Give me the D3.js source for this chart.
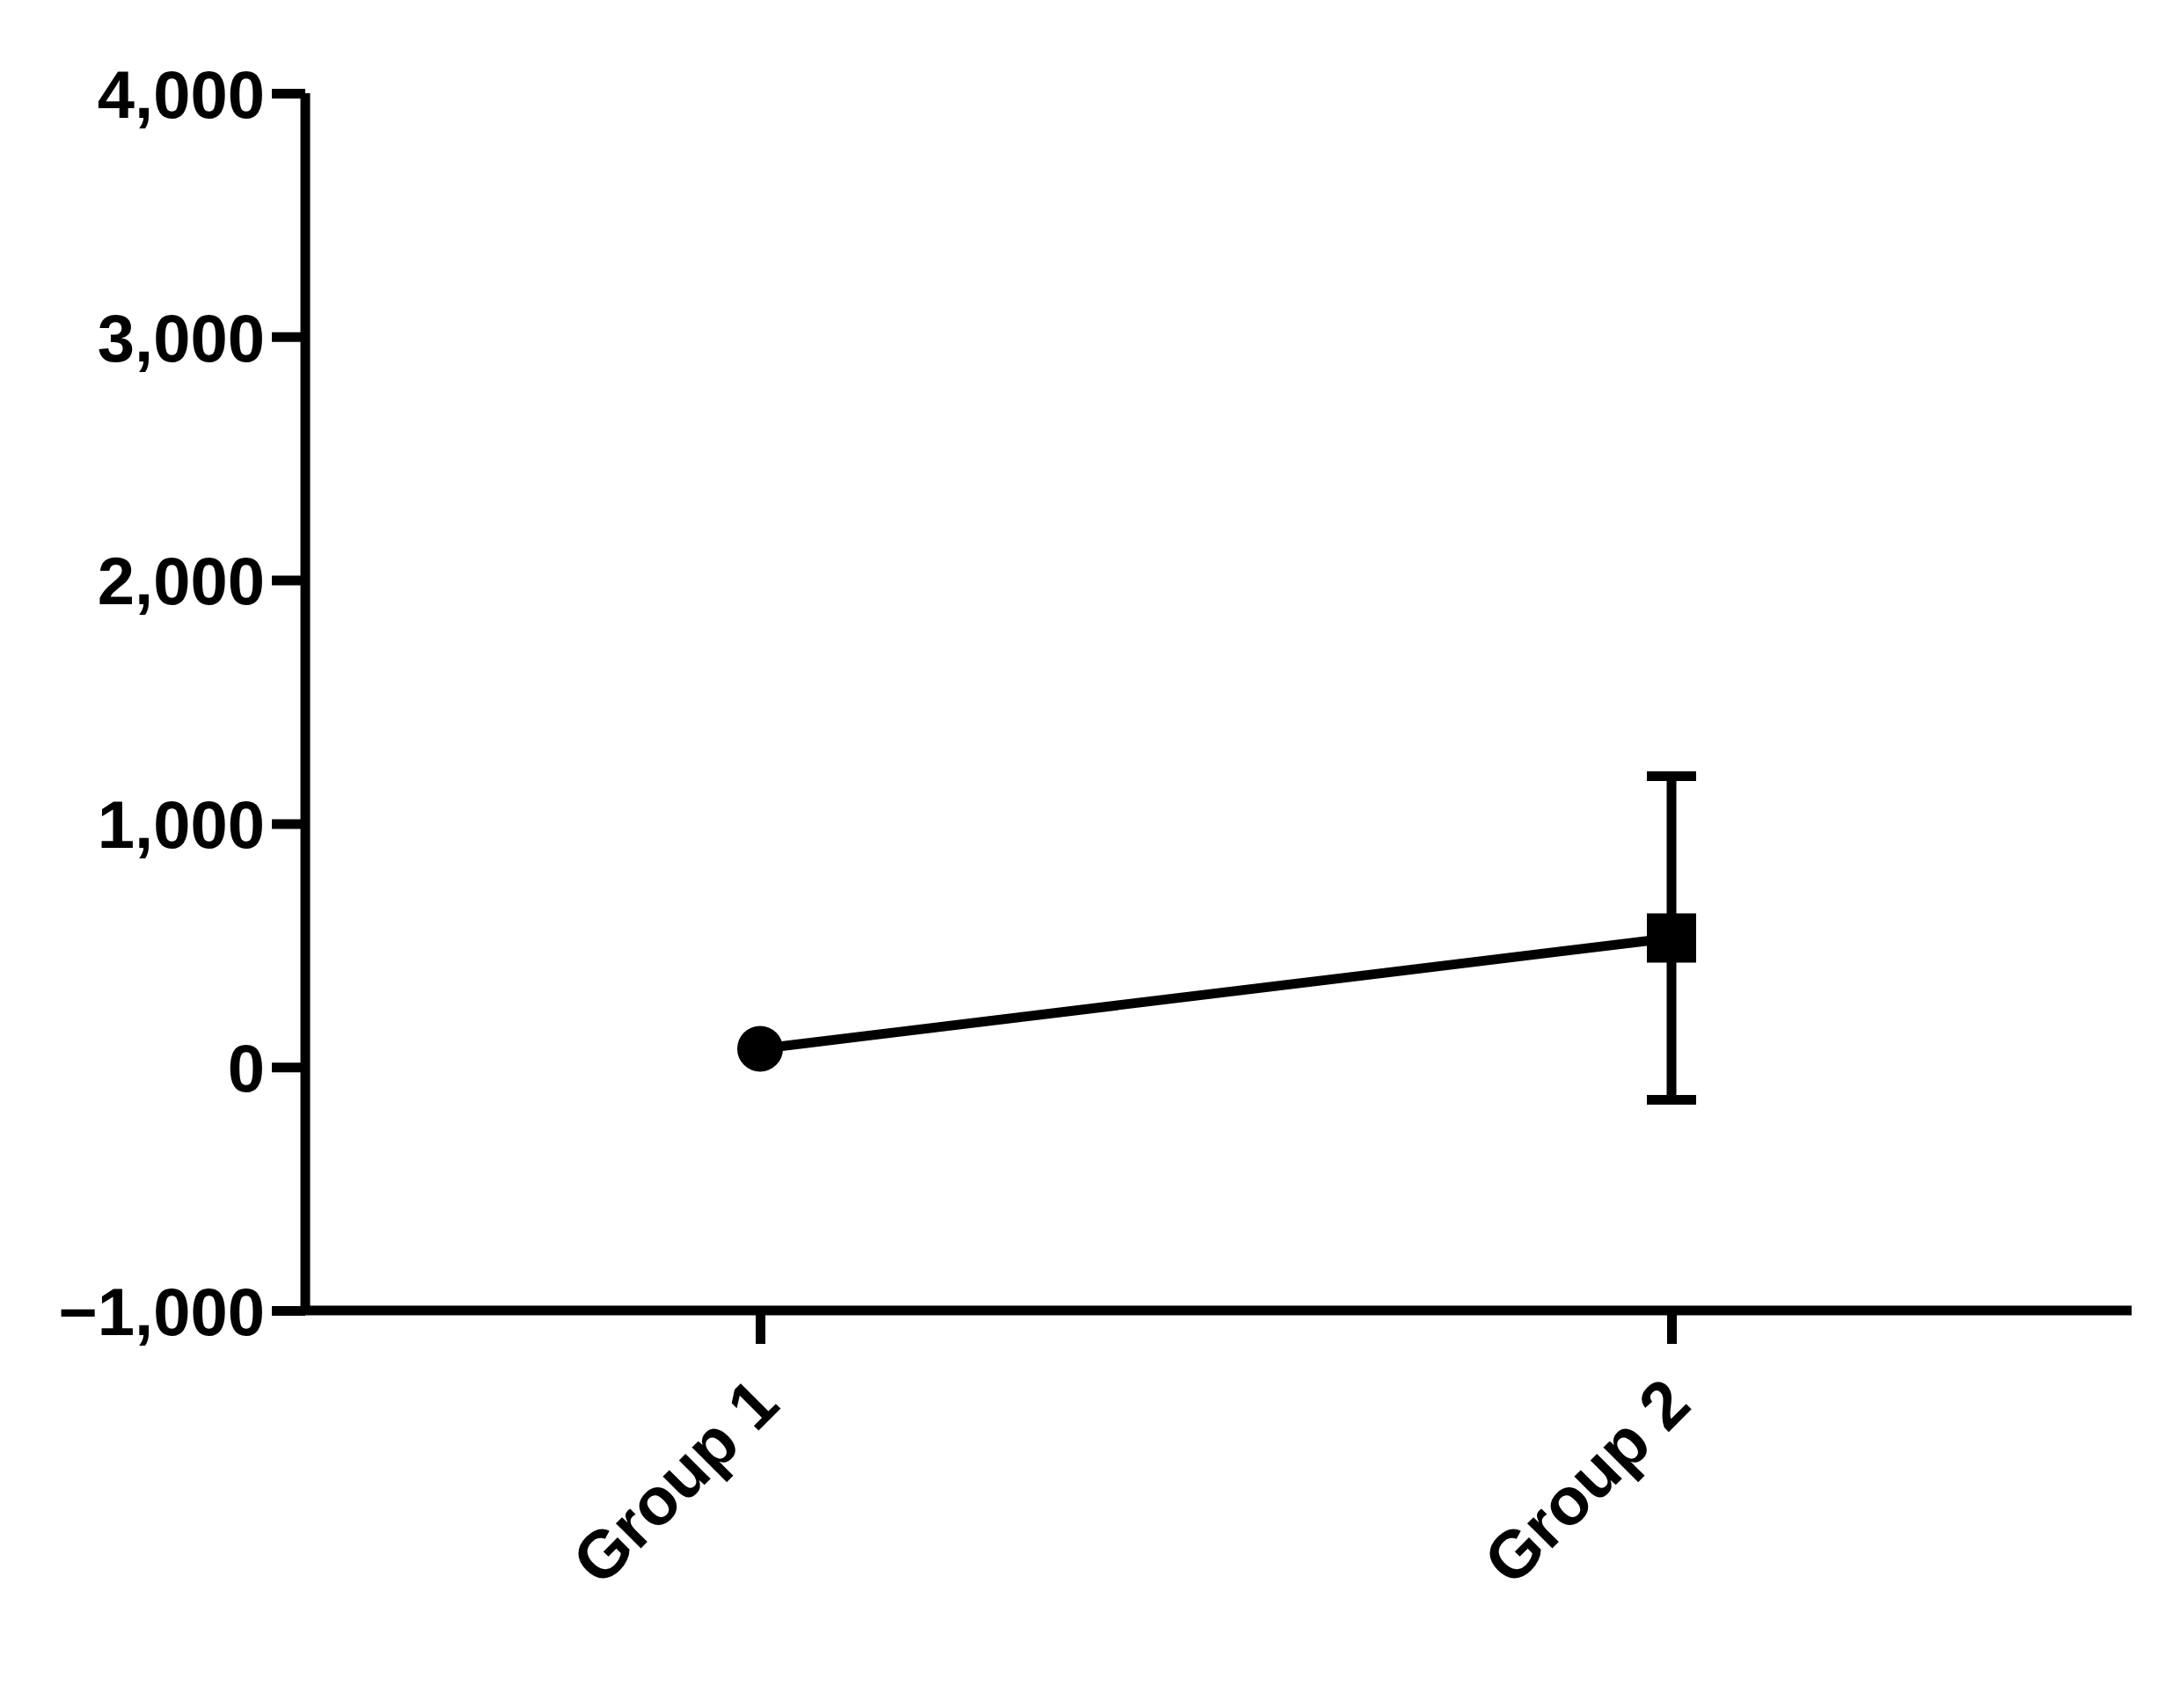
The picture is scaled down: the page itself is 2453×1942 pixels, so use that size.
<!DOCTYPE html>
<html><head><meta charset="utf-8">
<script src="https://cdn.jsdelivr.net/npm/d3@7"></script>
<style>body{margin:0;background:#fff}</style></head>
<body><svg id="c" width="2453" height="1942"></svg>
<script>
const categories = ["Group 1", "Group 2"];
const means = [75, 530];
const errors = [0, 665];
const yTicks = [-1000, 0, 1000, 2000, 3000, 4000];

const svg = d3.select("#c");
const L = 347, R = 2423, T = 106, B = 1490;
const y = d3.scaleLinear().domain([-1000, 4000]).range([B, T]);
const x = d3.scalePoint().domain(categories).range([864, 1900]);
const lw = 11, font = "'Liberation Sans', Arial, sans-serif";

const ya = svg.append("g").attr("transform", `translate(${L},0)`)
  .call(d3.axisLeft(y).tickValues(yTicks).tickSize(38).tickSizeOuter(0).tickPadding(8));
const xa = svg.append("g").attr("transform", `translate(0,${B})`)
  .call(d3.axisBottom(x).tickSize(38).tickSizeOuter(0).tickFormat(""));
xa.select(".domain").attr("d", `M${L},0H${R}`);
ya.select(".domain").attr("d", `M0,${B}V${T}`);
svg.selectAll(".domain, .tick line").attr("stroke", "#000").attr("stroke-width", lw);
ya.selectAll("text").attr("font-family", font).attr("font-weight", "bold").attr("font-size", 76).attr("fill", "#000").attr("dy", "0.36em");

svg.append("g").selectAll("text").data(categories).join("text")
  .attr("transform", d => `translate(${x(d) + 25},${B + 110}) rotate(-45)`)
  .attr("text-anchor", "end").attr("font-family", font).attr("font-weight", "bold")
  .attr("font-size", 76).text(d => d);

const line = d3.line().x((d, i) => x(categories[i])).y(d => y(d));
svg.append("path").attr("d", line(means)).attr("fill", "none").attr("stroke", "#000").attr("stroke-width", lw);

categories.forEach((c, i) => {
  if (errors[i] > 0) {
    const cx = x(c), hi = y(means[i] + errors[i]), lo = y(means[i] - errors[i]);
    svg.append("line").attr("x1", cx).attr("x2", cx).attr("y1", hi).attr("y2", lo).attr("stroke", "#000").attr("stroke-width", lw);
    [hi, lo].forEach(v => svg.append("line").attr("x1", cx - 28).attr("x2", cx + 28).attr("y1", v).attr("y2", v).attr("stroke", "#000").attr("stroke-width", lw));
  }
});
svg.append("circle").attr("cx", x(categories[0])).attr("cy", y(means[0])).attr("r", 26).attr("fill", "#000");
svg.append("rect").attr("x", x(categories[1]) - 28).attr("y", y(means[1]) - 28).attr("width", 56).attr("height", 56).attr("fill", "#000");
</script></body></html>
